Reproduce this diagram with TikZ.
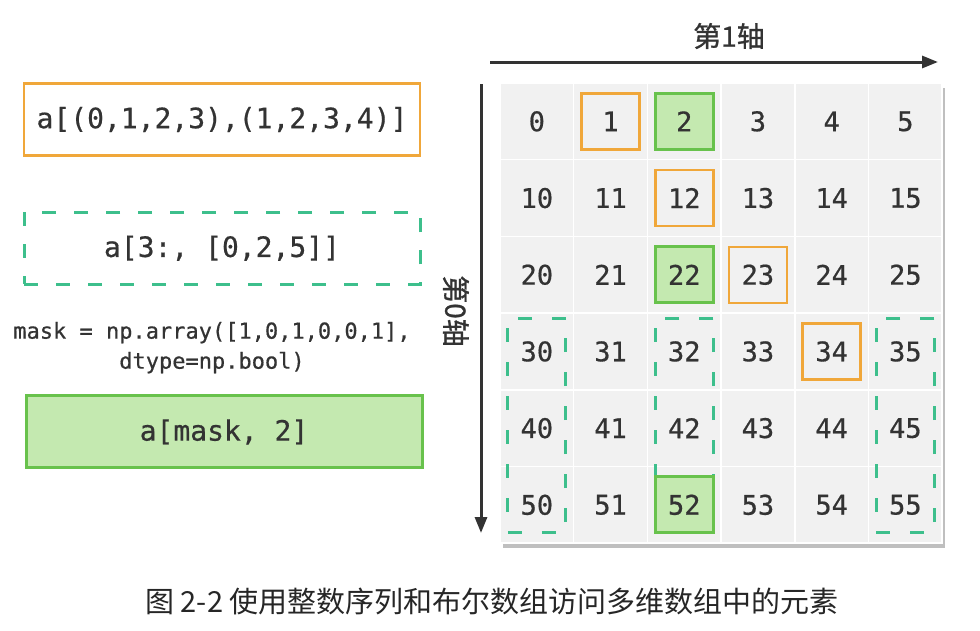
\documentclass[tikz,border=0pt]{standalone}
\usepackage{fontspec}
\setmonofont{DejaVu Sans Mono}
\newfontfamily\codefont[FakeBold=0.6]{DejaVu Sans Mono}
\newfontfamily\cjk{Noto Sans CJK SC}
\newfontfamily\cjkaxis[FakeBold=1]{Noto Sans CJK SC}
\usetikzlibrary{arrows.meta, positioning, shadows}

\definecolor{ink}{HTML}{333333}
\definecolor{pickorange}{HTML}{F0A73A}
\definecolor{maskgreen}{HTML}{68C24C}
\definecolor{maskfill}{HTML}{C4E9B0}
\definecolor{slicegreen}{HTML}{3DBF8C}
\definecolor{cellgray}{HTML}{F1F1F1}

\begin{document}
\begin{tikzpicture}[
    x=1pt, y=-1pt,
    codebox/.style={rectangle, minimum width=396pt, minimum height=72pt, font=\fontsize{28}{32}\selectfont\codefont, text=ink, inner sep=0pt},
    fancybox/.style={codebox, draw=pickorange, line width=2.5pt},
    slicebox/.style={codebox, draw=slicegreen, line width=3pt, dash pattern=on 14pt off 18pt},
    boolbox/.style={codebox, draw=maskgreen, fill=maskfill, line width=3pt},
    cell/.style={rectangle, fill=cellgray, draw=white, line width=1.5pt, minimum width=73.7pt, minimum height=76.7pt, inner sep=0pt},
    num/.style={font=\fontsize{27}{30}\selectfont\codefont, text=ink, inner sep=0pt},
    pick/.style={rectangle, draw=pickorange, line width=2.5pt, minimum width=58pt, minimum height=56pt, inner sep=0pt},
    hit/.style={pick, draw=maskgreen, fill=maskfill, line width=3pt},
    slicecol/.style={rectangle, draw=slicegreen, line width=3pt, dash pattern=on 14pt off 20pt, minimum width=58pt, minimum height=214pt, inner sep=0pt},
    axis/.style={-{Triangle[length=16pt, width=12pt]}, line width=3pt, draw=ink},
    axlbl/.style={font=\fontsize{28}{32}\selectfont\cjkaxis, text=ink, inner sep=0pt},
]
\useasboundingbox (0,0) rectangle (980,630);

% Left column: index expressions
\node[fancybox] (fancy) at (222,119.5) {a[(0,1,2,3),(1,2,3,4)]};
\node[slicebox, below=54pt of fancy] (slice) {a[3:, [0,2,5]]};
\node[below=36pt of slice, xshift=-10pt, align=center, inner sep=0pt, text=ink,
      font=\fontsize{22}{30}\selectfont\codefont] (maskdef)
      {mask = np.array([1,0,1,0,0,1],\\dtype=np.bool)};
\node[boolbox, below=21pt of maskdef, xshift=12pt] (boolidx) {a[mask, 2]};

% Array
\node[fill=white, minimum width=442pt, minimum height=460pt, inner sep=0pt,
      drop shadow={shadow xshift=3pt, shadow yshift=-5pt, opacity=0.25, fill=black}] (board) at (721,313) {};
\foreach \r in {0,...,5}
  \foreach \c in {0,...,5}
    \node[cell] (c\r\c) at ({536.85+73.7*\c},{121.35+76.7*\r}) {};

% Slices a[3:, [0,2,5]]
\node[slicecol] (s0) at ([yshift=3pt]c40) {};
\node[slicecol] (s2) at ([yshift=3pt]c42) {};
\node[slicecol] (s5) at ([yshift=3pt]c45) {};

% Fancy indexing
\node[pick] (p01) at (c01) {};
\node[pick] (p12) at (c12) {};
\node[pick] (p23) at (c23) {};
\node[pick] (p34) at (c34) {};

% Boolean mask
\node[hit] (h02) at (c02) {};
\node[hit] (h22) at (c22) {};
\node[hit] (h52) at (c52) {};

\foreach \r in {0,...,5}
  \foreach \c in {0,...,5}{
    \pgfmathtruncatemacro{\v}{10*\r+\c}
    \node[num] (n\r\c) at (c\r\c) {\v};
  }

% Axes
\coordinate (ax1s) at (490,62);
\coordinate (ax1e) at (938,62);
\coordinate (ax0s) at (481,84);
\coordinate (ax0e) at (481,533);
\draw[axis] (ax1s) -- (ax1e);
\draw[axis] (ax0s) -- (ax0e);
\node[axlbl] (lbl1) at (729,36) {第1轴};
\node[axlbl, rotate=-90] (lbl0) at (456,311) {第0轴};

% Caption
\node[font=\fontsize{29}{34}\selectfont\cjk, text=black!85, inner sep=0pt] (caption) at (492,601)
  {图 2-2 使用整数序列和布尔数组访问多维数组中的元素};

\end{tikzpicture}
\end{document}
